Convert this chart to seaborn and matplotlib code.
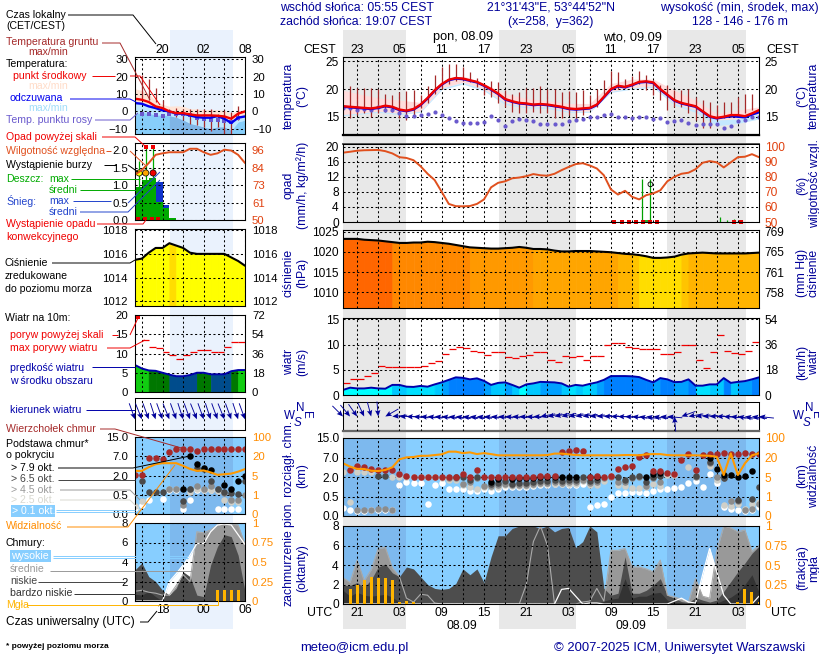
import numpy as np
import matplotlib
matplotlib.use("Agg")
import matplotlib.pyplot as plt
import seaborn as sns

nan = np.nan

# --- main panel, hourly data (UTC hours counted from 08.09 00:00)
hours = list(range(-5, 55))
temp = [16.9,16.8,16.7,16.6,16.5,16.7,17.0,16.8,16.3,16.1,16.4,17.2,18.4,19.8,20.9,21.7,22.0,21.9,21.6,21.3,
        20.7,20.0,19.2,18.2,17.8,17.5,17.4,17.2,17.3,17.2,17.0,16.8,16.5,16.4,16.5,16.6,17.2,18.6,20.0,20.6,
        20.4,20.8,21.3,21.4,21.2,20.0,19.0,18.0,17.5,17.2,16.9,16.0,15.1,14.8,15.0,15.3,15.3,15.1,15.6,16.2]
feels = [16.8,16.7,16.6,16.5,16.4,16.6,16.9,16.7,16.2,16.0,16.3,17.1,18.3,19.7,20.8,21.6,21.9,21.8,21.5,21.2,
         20.6,19.9,19.1,18.1,17.7,17.4,17.3,17.1,17.2,17.1,16.9,16.7,16.4,16.3,16.4,16.5,17.1,18.5,19.9,20.5,
         20.3,20.7,21.2,21.3,21.1,19.9,18.9,17.9,17.4,17.1,16.8,15.9,15.0,14.7,14.9,15.1,15.0,14.9,15.4,15.8]
dew = [16.5,16.5,16.3,16.4,16.3,16.7,16.3,16.2,15.6,15.2,15.2,15.3,15.5,15.9,15.4,14.8,14.3,13.9,13.9,13.9,
       14.1,15.1,14.4,13.4,14.2,14.6,14.4,14.3,13.7,13.7,13.7,13.7,14.3,14.5,14.6,14.9,15.0,15.4,15.5,14.9,
       14.9,14.8,14.9,14.9,14.6,14.7,14.0,14.3,14.5,13.8,13.5,13.6,13.6,13.6,12.9,13.4,14.2,14.4,15.0,15.0]
band_hours = [-5,-3,0,3,6,9,12,15,18,21,24,27,30,33,36,39,42,45,48,51,54]
temp_top = [19.8,19.2,18.4,18,17.6,21.4,22.4,21,19.2,18.3,17.9,17.4,17.4,21,21.8,21.8,19.8,18,15.5,16.2,16.8]
temp_bot = [15.4,15.6,16,15.6,16,20.2,21.2,20,17.5,16.8,16.8,16,16,19.6,20.2,20.6,17.4,16.2,14.4,14.6,15.5]
feels_bot = [15.2,15.4,15.8,15.4,15.8,19.9,20.9,19.7,17.2,16.6,16.5,15.8,15.8,19.4,20,20.3,17.1,15.8,13.4,13.8,14.6]
ground_hours = list(range(-4, 54))
ground_max = [20.5,20.2,20.2,20.2,20.1,19.2,18.9,19.5,19.6,19.9,19.0,20.5,22.6,24.0,24.6,24.5,24,23,22,21,21.5,21.3,19.8,19.2,
              19.5,20.2,20.2,20.5,20.1,20.1,19.5,19.6,19.5,19.8,18.9,20.1,21.7,23.2,23,21.8,22.4,23.3,22.6,21.5,20.8,20.8,
              19.8,19.8,20.1,18.6,18.1,17.7,17.1,17.7,17.7,18.6,19.2,19.2]
ground_min = [14.7,15.3,15.6,15.0,15.6,15.9,15.9,14.7,14.5,15.3,16.5,17.4,19.2,20.1,21,21.5,21.5,21.3,20.4,18.9,18.6,17.4,16.7,15.9,
              15.6,15.6,15.9,15.6,15.6,14.7,14.7,15.3,14.4,15.3,16.5,16.8,18.6,20.1,20.1,20.2,20.4,21,19.8,18.9,18,16.2,
              16.7,16.7,15.6,14.4,12.9,12.9,14.4,14.7,15,15.3,15.6,16.2]
humidity = [96,96.6,97.3,97.6,97.7,97.8,97,95.5,93,92.5,91,87,82,77.8,70,62,60.5,60.4,60.6,62,
            65,73,76,77,79,79.5,80.4,81.8,81,80.7,82,84.4,86.5,88.4,89,87.5,85.5,81,71.6,68.2,
            70.7,66.7,65,67.8,69,71,77,80,82,82.7,85,89.3,90.4,89.6,86.2,89.6,93,93.3,95,93]
rain_hours = [37.4, 38.6, 48.5, 49.5, 50.5]
rain_max = [11.5, 11.5, 1.4, 0.4, 0.9]
conv_hours = [33.5, 34.5, 35.5, 36.5, 37.5, 38.5, 39.5, 50.4, 51.5]
pressure = [1023.2,1023.2,1023.2,1023.0,1022.9,1022.8,1022.6,1022.4,1022.2,1022.2,1022.3,1022.3,1022.5,1022.4,1022.2,1022.0,1021.7,1021.4,1021.1,1021.0,
            1020.9,1020.8,1020.8,1020.9,1021.0,1021.2,1021.0,1020.7,1020.7,1020.6,1020.3,1020.1,1020.1,1020.2,1020.2,1020.2,1020.1,1020.0,1019.9,1019.7,
            1019.5,1019.4,1019.2,1018.9,1018.5,1018.5,1018.6,1018.8,1019.3,1019.6,1019.7,1019.8,1019.7,1019.6,1019.6,1019.6,1019.6,1019.6,1019.7,1019.8]
wind = [1.0,1.45,1.3,1.3,1.45,1.3,1.25,2,2,1.65,1.6,1.8,1.65,2.1,2.5,3,3.5,3.4,3.1,3.3,
        2.8,2,2.4,2.5,2,1.45,2.1,2.3,2.6,2.55,2.5,2.3,1.65,2,1.85,2.2,2.5,3,3.75,3.75,
        3.75,3.7,3.55,3,2.5,3.35,3.1,2.55,2.6,3.1,1.85,1.85,2.1,2.1,3.35,2.4,2.6,2.75,3.1,3.5]
gust_hours = list(range(-5, 54))
gust = [2.3,3.1,3.1,3.75,4.3,5.8,5.6,5.6,5.6,5.6,5.5,5.7,6.25,6.7,8.2,9.2,9.6,9.4,8.8,8.55,
        8.0,8.55,8.55,7.6,7.4,7.75,8.0,8.55,8.55,7.0,6.45,7.75,7.55,7.75,7.0,7.75,7.75,10,10.2,10.2,
        9.5,9.4,9.2,9.2,9.2,8.1,8.1,8.5,10,10,7,5.25,8.5,11.8,8.8,8.3,8.1,8.8,10.4]
wind_dir = [315,320,325,335,345,355,60,85,90,92,95,95,96,96,97,97,98,98,98,97,
            96,96,95,95,94,94,94,92,80,80,78,78,80,80,82,84,86,88,90,92,
            94,96,100,100,98,96,95,175,70,80,84,86,88,90,94,96,100,100,98,96]
cloud_top = [nan,3.8,4.9,4.65,4.05,3.8,3.8,3.8,2.75,2.35,2.1,2.1,2.1,2.1,2.1,2.1,2.1,2.75,2.1,3.8,
             2.1,1.97,1.97,1.97,2.1,2.1,2.1,2.1,2.35,2.35,2.35,9.4,9.65,10.2,9.65,2.1,2.35,2.1,2.35,4.05,
             4.5,4.9,7.1,8.0,3.6,3.6,2.95,2.75,6.25,8.3,3.8,8.0,8.45,8.45,8.7,8.45,8.45,8.7,8.45,8.45]
base_white = [.2,.15,.14,.14,.15,.15,.15,.15,1.38,1.64,1.51,1.51,.3,1.38,1.51,1.05,1.05,1.05,.92,.95,
              1.05,.95,1.05,1.23,1.23,1.23,1.23,1.3,1.36,1.36,1.44,1.44,1.36,1.36,1.44,.24,.27,.31,.5,.74,
              .74,.87,.87,.74,.95,1.05,1.05,1.13,1.25,1.56,1.71,1.25,2.7,1.51,.24,.18,.15,.14,.15,.24]
base_light = [3.3,.37,3.2,3.2,3.2,nan,nan,2.0,2.1,2.0,2.0,2.0,2.0,2.0,1.9,1.8,1.8,1.4,1.25,1.1,
              1.25,1.2,1.25,1.35,1.3,1.3,1.3,1.35,1.45,1.45,1.5,1.5,1.5,1.5,1.7,1.4,1.4,1.7,2.2,1.4,
              1.3,1.15,1.15,1.2,1.5,1.3,2.6,2.6,nan,4.65,2.2,nan,4.9,1.8,.28,.26,.3,.18,.3,.35]
base_gray = [nan,nan,.15,.15,.15,.17,.18,.16,nan,nan,nan,nan,nan,nan,nan,1.9,1.9,1.5,1.6,1.9,
             1.3,1.3,1.35,1.5,1.35,1.4,1.4,1.45,1.55,1.55,1.6,1.55,1.6,1.6,1.8,1.55,1.6,1.9,2.0,1.6,
             1.6,1.9,2.1,1.3,1.9,1.6,nan,nan,nan,nan,2.0,nan,5.5,2.1,1.9,.38,.38,.16,.17,.3]
base_dark = [nan,nan,nan,nan,nan,2.35,2.35,nan,nan,nan,nan,nan,nan,nan,nan,nan,2.1,2.1,1.75,2.05,
             nan,1.45,1.55,1.7,1.5,1.55,1.55,1.6,1.7,1.7,1.75,1.7,1.75,1.75,2.0,1.7,1.75,nan,nan,2.0,
             1.8,2.05,2.3,1.6,2.1,2.3,nan,nan,nan,nan,2.2,nan,5.8,nan,1.95,nan,.4,nan,.44,1.25]
base_black = [nan,nan,nan,nan,nan,nan,nan,nan,nan,nan,nan,nan,nan,nan,nan,nan,nan,nan,nan,nan,
              nan,1.64,1.82,nan,1.82,1.9,1.9,1.9,2,2,2,2,2,2,nan,2,2,nan,nan,nan,
              nan,nan,nan,2.0,2.8,3.1,nan,nan,nan,nan,nan,nan,6.95,3.95,2.5,2.5,2.0,2.25,3.6,nan]
visibility = [15.5,13,11.2,11.2,9.8,9.6,10.4,12.5,18.6,20.6,22,27,27,30,33,44,44,38,41,34,
              38,34,29,29,29,29,29,29,29,30,36,36,33,30,29,29,29,29,29,29,
              30,30,29,33,34,34,30,29,29,29,29,28,27,23,6.5,37,6.5,15.5,29,37]
cloud_low = [1.9,1.9,2.2,1.7,2.5,3.8,4.1,3.2,2.8,3.8,3.6,2.8,2,1.6,1.5,1.6,2.1,3.6,3,3.6,
             2.2,4.85,7,7,7.75,8,8,8,7.75,8,7.4,7.75,7.85,5.8,6.4,8,7.4,1.6,.9,1.1,
             4.85,1.1,1.1,1.4,1.95,2.6,.9,.6,.25,.15,.65,.4,.2,.4,1.3,2.3,3.3,4.2,5.2,5.9]
cloud_vlow = [1.4,.8,1.2,.9,.8,.9,1.0,.7,.2,0,0,0,0,0,0,0,0,0,0,0,
              0,0,0,0,0,0,0,0,0,0,0,0,0,0,0,0,0,.3,.5,.6,
              2.6,.6,.8,.8,1.1,1.2,.4,.2,.1,0,.3,.1,0,.1,.4,.7,1.2,2,3,1.2]
cloud_mid = [2.7,2.2,4.5,2.4,3.5,5.7,5.8,3.7,2.8,.6,.2,1,.9,.1,0,0,0,0,0,0,
             0,0,0,0,0,0,2,6.4,8,6,0,0,0,0,.2,.3,1.6,.3,5.5,5.5,
             5.7,3.8,3.8,3.6,3.3,4.5,.9,.7,.5,.2,2.6,.8,.6,5.4,8,7.8,7.4,7.6,5.4,6]
cloud_high = [0,0,0,0,0,0,0,0,0,0,0,0,0,0,0,0,0,0,0,0,
              0,0,0,0,0,0,0,0,0,0,0,1.5,1.6,.8,0,.1,.1,0,0,0,
              0,0,0,0,0,0,0,.3,.6,.2,.1,3,5.7,3.3,.9,0,0,0,0,.8]
fog = [.19,.19,.25,.31,.34,.33,.33,.31,.03,.04,.02,0,0,0,0,0,0,0,0,0,
       0,0,0,0,0,0,0,0,0,0,0,0,0,0,0,0,0,0,0,0,
       0,0,0,0,0,0,0,0,0,0,0,0,0,0,0,0,.03,.19,.16,.03]

# --- left panel, hourly data
left_hours = list(range(-10, 7))
left_temp = [7.3,6.7,5.4,2.9,1.9,0,-1,-1,-1.7,-2.3,-2.3,-2.3,-2.5,-2.9,-4.2,-1.3,0]
left_feels = [4.8,4.4,2.9,1.9,.6,0,-1.3,-1.3,-2.3,-3.3,-3.6,-3.6,-2.7,-4.2,-6.7,-3.6,-2.9]
left_temp_top = [13,12,10,6.5,4,3,3.2,3,1.5,1.5,1,1,1,.5,-1,.5,.5]
left_feels_bot = [-1.5,-.5,-1,-2,-2,-2.5,-3.5,-5,-7,-8,-9,-10,-9,-9,-11,-6,-5]
left_ground_hours = list(range(-9, 6))
left_ground_max = [20.8,18.8,13.6,6.3,1.5,2.1,1.5,1.5,1.5,1.5,1.5,-1.3,.6,-.4,2.9]
left_ground_min = [6.3,6.3,5.4,1.5,-2.3,-3.3,-5.2,-7.1,-8.1,-9,-11,-9,-12.9,-12.9,-5.2]
left_dew = [-1.3,-1.3,-2.3,-2.7,-1.3,-1.3,-1.7,-2.3,-3.8,-4.2,-4.8,-5.2,-5.6,-6.2,-3.6]
left_humidity = [79.9,83,87.6,93,94,94.7,94.7,94.7,97,97,94.7,93,94,96.4,95.8,93,87.6]
left_rain_hours = [-10,-9,-8,-7,-6,-5]
left_rain = [.96,1.15,1.2,.53,.34,.07]
left_snow = [0,0,0,.57,.09,0]
left_storm_hours = [-9.4,-8.44,-7.37]
left_storm_level = [1.35,1.35,1.35]
left_rain_max = [1.7,2.1,2.1]
left_over_hours = [-8.44,-7.37]
left_over = [2.1,2.1]
left_conv_hours = [-9.6,-8.6,-7.6,-6.6]
left_pressure = [1015.5,1015.6,1016.1,1016.5,1016.5,1016.9,1016.7,1016.5,1016.1,1016,1016,1016,1016,1016,1015.7,1015.4,1015]
left_wind = [7,6.1,5.6,5.5,5,4.5,4.1,4.1,4.4,5,5,4.6,4.6,4.6,5.4,5.7,5.7]
left_gust_hours = list(range(-9, 6))
left_gust = [13.5,11.6,11.3,10.4,9.6,8.7,9.7,10.4,10.8,10.8,10.4,10.4,11.6,12.9,12.9]
left_dir = [340,338,340,342,340,338,340,342,340,338,340,342,340,338,340,342,340]
left_top = [2.15,2.15,6.5,6.5,6.2,8.9,10,10,10,9.2,10,10,10,10,10,10,10]
left_black = [nan,nan,nan,nan,nan,nan,nan,.97,7,4.95,3.9,3.45,nan,1.28,.94,1.58,2]
left_dark = [nan,1.58,.68,.68,.68,nan,nan,.34,.97,4.05,3.7,1.58,.94,.68,.62,.55,1.58]
left_gray = [nan,nan,nan,nan,nan,.95,.97,.24,.95,1.2,.95,1.2,.95,.62,.37,.37,.5]
left_light = [.21,.34,nan,nan,nan,.95,.95,nan,.75,.95,.85,.85,.8,.37,.3,.3,nan]
left_white = [.15,.24,.37,nan,.39,.87,.87,.13,.37,.87,.87,.87,.13,.13,.13,.13,nan]
left_vis = [8.6,8.6,11.5,13.8,14.6,14.6,14.6,12.5,10.1,8.6,8.9,7.4,5.5,6,6.5,8,10]
left_low = [3.2,3.9,2.5,2,1.1,.6,1.3,3,2.5,.6,.45,3.7,5.6,6.8,6.6,4.7,1]
left_vlow = [.7,.6,1,.45,0,0,0,0,0,0,0,0,0,0,0,0,0]
left_mid = [1,1.1,.9,.8,.6,.6,1.6,2.7,2,7.1,7,7.3,7.8,7.9,7.9,7.8,5.8]
left_high = [0,0,0,0,0,2,2.8,3.7,4.7,5.9,5.9,7.1,7.8,7.9,7.8,6.8,5.8]
left_fog_hours = [2,3,4,5]
left_fog = [.14,.14,.14,.14]

# --- axis labels
utc_labels = ["21","03","09","15","21","03","09","15","21","03"]
cest_labels = ["23","05","11","17","23","05","11","17","23","05"]
base_ticks = [0, .5, 2, 7, 15]
vis_ticks = [0, 1, 5, 20, 100]
scale_steps = [0, 1, 2, 3, 4]
hg_labels = ["758","761","765","769"]

# --- colour classes
press_limits = [1016.8,1019.25,1019.45,1019.9,1020.8,1021.4,1022.6]
press_colors = ["#FFFF00","#FFDD00","#FFC400","#FFB400","#FFA500","#FF9900","#FF8800","#FF6600"]
wind_limits = [1.5,2.0,2.5,3.0,4.0,4.8,5.7]
wind_colors = ["#00FFFF","#00E0FF","#00C8FF","#00A0FF","#0080FF","#004C8C","#007700","#11CC11"]

W, H = 820, 660
LX0, LX1 = 135, 245
MX0, MX1 = 343, 759
NAVY = "#000099"
ORANGE = "#FF8C00"
SKY = "#87CEFF"
SKY_NIGHT = "#7DB9EE"

sns.set_theme(style="white", rc={"axes.linewidth": 0.75, "axes.edgecolor": "black"})
plt.rcParams["font.family"] = ["Liberation Sans", "DejaVu Sans"]
plt.rcParams["font.size"] = 8.8

fig = plt.figure(figsize=(W / 100, H / 100), dpi=100, facecolor="white")


def make_panel(x0, x1, y0, y1):
    return fig.add_axes([x0 / W, 1 - y1 / H, (x1 - x0) / W, (y1 - y0) / H], facecolor="none")


def finish_panel(ax, xlim, grid_x, ylim, yticks, ylabels=None, pad=3, size=8.6):
    ax.set_xlim(*xlim)
    ax.set_ylim(*ylim)
    ax.set_xticks(grid_x)
    ax.set_xticklabels([])
    ax.set_yticks(yticks)
    if ylabels is not None:
        ax.set_yticklabels(ylabels)
    ax.set(xlabel="", ylabel="")
    ax.tick_params(length=0, labelsize=size, pad=pad, colors="black")
    ax.set_axisbelow(False)
    ax.grid(True, color="black", linewidth=0.75, linestyle=(0, (2, 2.4)))


def finish_twin(ax, ylim, yticks, ylabels=None, color="black", pad=4, size=8.6):
    ax.set_facecolor("none")
    ax.set_ylim(*ylim)
    ax.set_yticks(yticks)
    if ylabels is not None:
        ax.set_yticklabels(ylabels)
    ax.set(xlabel="", ylabel="")
    ax.tick_params(length=0, labelsize=size, pad=pad, labelcolor=color)
    ax.grid(False)


def paint_under(ax, x, y, bottom, limits, colors):
    idx = np.digitize(y, limits)
    for i in range(len(x) - 1):
        ax.fill_between(x[i:i + 2], bottom, y[i:i + 2], color=colors[idx[i]], linewidth=0.6, zorder=1)


def set_function_scale(ax, ticks):
    ax.set_yscale("function", functions=(lambda v: np.interp(v, ticks, scale_steps),
                                         lambda p: np.interp(p, scale_steps, ticks)))


def draw_base_dots(ax, x, white, light, gray, dark, black, top):
    for vals, col in [(white, "white"), (light, "#CFCFC8"), (gray, "#8C8C8C"),
                      (dark, "#4A4A4A"), (black, "black"), (top, "#A52A2A")]:
        sns.scatterplot(x=x, y=vals, ax=ax, color=col, s=22, linewidth=0, zorder=3, legend=False)


def draw_cover(ax, x, high, mid, low, vlow):
    ax.fill_between(x, 0, high, color="white", linewidth=0, zorder=1)
    ax.fill_between(x, 0, mid, color="#999999", linewidth=0, zorder=1.1)
    ax.fill_between(x, 0, low, color="#4D4D4D", linewidth=0, zorder=1.2)
    ax.fill_between(x, 0, vlow, color="#333333", linewidth=0, zorder=1.3)
    sns.lineplot(x=x, y=mid, ax=ax, color="#AAAAAA", linewidth=0.8, zorder=2, errorbar=None)
    sns.lineplot(x=x, y=high, ax=ax, color="white", linewidth=0.9, zorder=2, errorbar=None)


# background layer: night bands, in pixel coordinates of the whole figure
bg = fig.add_axes([0, 0, 1, 1], zorder=-1)
bg.set_xlim(0, W)
bg.set_ylim(H, 0)
bg.axis("off")
main_px = lambda t: MX0 + (t + 5) * (MX1 - MX0) / 59
left_px = lambda t: LX0 + (t + 10) * (LX1 - LX0) / 16
for a, b in [(-5, 3.9), (17.1, 28.05), (41, 52.1)]:
    bg.fill_between([main_px(a), main_px(b)], 30, 629, color="#E8E8E8", linewidth=0)
bg.fill_between([left_px(-4.9), left_px(4.2)], 30, 629, color="#EAF2FD", linewidth=0)

main_x = (-5, 54)
left_x = (-10, 6)
main_grid = list(range(-3, 54, 3))
left_grid = list(range(-9, 7, 3))

# --- temperature
ax = make_panel(MX0, MX1, 57, 135)
ax.fill_between(band_hours, temp_bot, temp_top, color="#FFDCDC", linewidth=0, zorder=1)
ax.fill_between(band_hours, feels_bot, temp_bot, color="#C4E8FF", linewidth=0, zorder=1)
ax.vlines(ground_hours, ground_min, ground_max, color="#A52A2A", linewidth=0.9, zorder=3)
sns.scatterplot(x=hours, y=dew, ax=ax, color="#6A5ACD", s=9, linewidth=0, zorder=3, legend=False)
sns.lineplot(x=hours, y=feels, ax=ax, color="#0000EE", linewidth=1.7, zorder=3.1, errorbar=None)
sns.lineplot(x=hours, y=temp, ax=ax, color="#F00000", linewidth=1.7, zorder=3.2, errorbar=None)
finish_panel(ax, main_x, main_grid, (11.7, 25.8), [15, 20, 25])
ax.spines["bottom"].set_linewidth(1.6)
ax.xaxis.tick_top()
ax.set_xticklabels([cest_labels[i // 2] if i % 2 == 0 else "" for i in range(len(main_grid))])
ax.tick_params(axis="x", length=0, labelsize=8.8, pad=1)
tw = ax.twinx()
finish_twin(tw, (11.7, 25.8), [15, 20, 25])

ax = make_panel(LX0, LX1, 57, 134)
lh = np.array(left_hours)
night = (lh >= -5) & (lh <= 4)
ax.fill_between(left_hours, left_feels, left_temp_top, color="#FFE4D6", linewidth=0, zorder=1)
ax.fill_between(left_hours, left_feels_bot, left_feels, color="#BFE8FF", linewidth=0, zorder=1.1)
ax.fill_between(left_hours, -13, left_feels_bot, color="#87CEFA", linewidth=0, zorder=1.2)
ax.fill_between(left_hours, -13, left_feels_bot, where=night, color="#7FB5E6", linewidth=0, zorder=1.3)
ax.vlines(left_ground_hours, left_ground_min, left_ground_max, color="#A52A2A", linewidth=0.9, zorder=3)
sns.scatterplot(x=left_ground_hours, y=left_dew, ax=ax, color="#6A5ACD", s=9, marker="s", linewidth=0, zorder=3, legend=False)
sns.lineplot(x=left_hours, y=left_feels, ax=ax, color="#0000EE", linewidth=1.7, zorder=3.1, errorbar=None)
sns.lineplot(x=left_hours, y=left_temp, ax=ax, color="#F00000", linewidth=1.7, zorder=3.2, errorbar=None)
finish_panel(ax, left_x, left_grid, (-13, 31.3), [-10, 0, 10, 20, 30], pad=5, size=8.2)
ax.xaxis.tick_top()
ax.set_xticklabels(["", "20", "", "02", "", "08"])
ax.tick_params(axis="x", length=0, labelsize=8.8, pad=1)
tw = ax.twinx()
finish_twin(tw, (-13, 31.3), [-10, 0, 10, 20, 30], pad=5, size=8.2)

# --- precipitation and humidity
ax = make_panel(MX0, MX1, 144, 222)
ax.vlines(rain_hours, 0, rain_max, color="#00A000", linewidth=0.9, zorder=3)
ax.hlines([0.25], [37.4], [38.6], color="#00A000", linewidth=1.2, zorder=3)
sns.scatterplot(x=conv_hours, y=[0.05] * len(conv_hours), ax=ax, color="#E00000", marker="s", s=6,
                linewidth=0, zorder=4, legend=False, clip_on=False)
sns.scatterplot(x=[38.6], y=[10], ax=ax, facecolor="none", edgecolor="black", s=12, linewidth=0.6, zorder=4, legend=False)
finish_panel(ax, main_x, main_grid, (0, 20.7), [0, 4, 8, 12, 16, 20])
ax.spines["top"].set_linewidth(1.4)
ax.spines["top"].set_color("#555555")
tw = ax.twinx()
sns.lineplot(x=hours, y=humidity, ax=tw, color="#E0501E", linewidth=1.4, errorbar=None)
finish_twin(tw, (50, 101.75), [50, 60, 70, 80, 90, 100], color="#E0400E")

ax = make_panel(LX0, LX1, 143, 220)
ax.bar(left_rain_hours, left_rain, width=1, align="edge", color="#00AA00", linewidth=0, zorder=1)
ax.bar(left_rain_hours, left_snow, width=1, align="edge", bottom=left_rain, color="#1133CC", linewidth=0, zorder=1)
ax.vlines(left_storm_hours, 0, left_rain_max, color="#00AA00", linewidth=0.9, zorder=2)
sns.scatterplot(x=left_storm_hours, y=left_storm_level, ax=ax, hue=left_storm_hours,
                palette=["#FFFF00", "#FFA500", "#F00000"], edgecolor="black", s=20, linewidth=0.5, zorder=4, legend=False)
sns.scatterplot(x=left_over_hours, y=left_over, ax=ax, color="#F00000", marker="s", s=9, linewidth=0, zorder=4, legend=False)
sns.scatterplot(x=left_conv_hours, y=[0.02] * 4, ax=ax, color="#E00000", marker="s", s=5, linewidth=0, zorder=4, legend=False, clip_on=False)
finish_panel(ax, left_x, left_grid, (0, 2.21), [0, .5, 1, 1.5, 2], ["0.0", "0.5", "1.0", "1.5", "2.0"], pad=5, size=8.2)
tw = ax.twinx()
sns.lineplot(x=left_hours, y=left_humidity, ax=tw, color="#E0501E", linewidth=1.4, errorbar=None)
finish_twin(tw, (50, 100.8), [50, 61, 73, 84, 96], color="#E0400E", pad=5, size=8.2)

# --- pressure
ax = make_panel(MX0, MX1, 230, 308)
paint_under(ax, hours, np.array(pressure), 1000, press_limits, press_colors)
sns.lineplot(x=hours, y=pressure, ax=ax, color="black", linewidth=1.5, zorder=3, errorbar=None)
finish_panel(ax, main_x, main_grid, (1006.1, 1025.4), [1010, 1015, 1020, 1025])
tw = ax.twinx()
finish_twin(tw, (1006.1, 1025.4), [1010, 1015, 1020, 1025], hg_labels)

ax = make_panel(LX0, LX1, 229, 306)
paint_under(ax, left_hours, np.array(left_pressure), 1000, press_limits, press_colors)
sns.lineplot(x=left_hours, y=left_pressure, ax=ax, color="black", linewidth=1.5, zorder=3, errorbar=None)
finish_panel(ax, left_x, left_grid, (1011.6, 1018.1), [1012, 1014, 1016, 1018], pad=5, size=8.2)
tw = ax.twinx()
finish_twin(tw, (1011.6, 1018.1), [1012, 1014, 1016, 1018], pad=5, size=8.2)

# --- wind
ax = make_panel(MX0, MX1, 318, 395)
paint_under(ax, hours, np.array(wind), 0, wind_limits, wind_colors)
ax.hlines(gust, gust_hours, np.array(gust_hours) + 1, color="#F00000", linewidth=0.9, zorder=3)
sns.lineplot(x=hours, y=wind, ax=ax, color="#0000AA", linewidth=1.4, zorder=3, errorbar=None)
finish_panel(ax, main_x, main_grid, (0, 15.25), [0, 5, 10, 15])
tw = ax.twinx()
finish_twin(tw, (0, 54.9), [0, 18, 36, 54])

ax = make_panel(LX0, LX1, 315, 392)
paint_under(ax, left_hours, np.array(left_wind), 0, wind_limits, wind_colors)
ax.hlines(left_gust, left_gust_hours, np.array(left_gust_hours) + 1, color="#F00000", linewidth=0.9, zorder=3)
sns.scatterplot(x=[-9.5], y=[19.5], ax=ax, color="#F00000", marker="s", s=9, linewidth=0, zorder=4, legend=False)
sns.lineplot(x=left_hours, y=left_wind, ax=ax, color="#0000AA", linewidth=1.4, zorder=3, errorbar=None)
finish_panel(ax, left_x, left_grid, (0, 20), [0, 5, 10, 15, 20], pad=5, size=8.2)
tw = ax.twinx()
finish_twin(tw, (0, 72), [0, 18, 36, 54, 72], pad=5, size=8.2)

# --- wind direction
def draw_arrows(ax, x, dirs, length, tip):
    rad = np.radians(dirs)
    ax.quiver(x, [tip] * len(x), -length * np.sin(rad), -length * np.cos(rad), pivot="tip", angles="uv",
              scale_units="dots", scale=1, units="dots", width=0.9, headwidth=6, headlength=7,
              headaxislength=6, color="#000099", zorder=3, clip_on=False)


ax = make_panel(MX0, MX1, 402, 431)
draw_arrows(ax, hours, wind_dir, 15, 0)
finish_panel(ax, main_x, main_grid, (-1, 1), [])
ax.spines["bottom"].set_linewidth(1.6)
ax.spines["bottom"].set_color("#666666")

ax = make_panel(LX0, LX1, 398, 430)
draw_arrows(ax, left_hours, left_dir, 17, -0.33)
finish_panel(ax, left_x, left_grid, (-1, 1), [])

# --- cloud base and visibility
ax = make_panel(MX0, MX1, 438, 516)
ax.set_facecolor(SKY)
set_function_scale(ax, base_ticks)
for a, b in [(-5, 3.9), (17.1, 28.05), (41, 52.1)]:
    ax.axvspan(a, b, color=SKY_NIGHT, linewidth=0, zorder=0.5)
draw_base_dots(ax, hours, base_white, base_light, base_gray, base_dark, base_black, cloud_top)
finish_panel(ax, main_x, main_grid, (0, 15.3), base_ticks, ["0.0", "0.5", "2.0", "7.0", "15.0"])
ax.yaxis.set_minor_locator(plt.NullLocator())
tw = ax.twinx()
set_function_scale(tw, vis_ticks)
sns.lineplot(x=hours, y=visibility, ax=tw, color="#FF9900", linewidth=1.5, errorbar=None)
finish_twin(tw, (0, 104), vis_ticks, color=ORANGE)
tw.yaxis.set_minor_locator(plt.NullLocator())

ax = make_panel(LX0, LX1, 437, 514)
ax.set_facecolor(SKY)
set_function_scale(ax, base_ticks)
ax.axvspan(-4.9, 4.2, color=SKY_NIGHT, linewidth=0, zorder=0.5)
draw_base_dots(ax, left_hours, left_white, left_light, left_gray, left_dark, left_black, left_top)
finish_panel(ax, left_x, left_grid, (0, 15), base_ticks, ["0.0", "0.5", "2.0", "7.0", "15.0"], pad=5, size=8.2)
ax.yaxis.set_minor_locator(plt.NullLocator())
tw = ax.twinx()
set_function_scale(tw, vis_ticks)
sns.lineplot(x=left_hours, y=left_vis, ax=tw, color="#FF9900", linewidth=1.5, errorbar=None)
finish_twin(tw, (0, 100), vis_ticks, color=ORANGE, pad=5, size=8.2)
tw.yaxis.set_minor_locator(plt.NullLocator())

# --- cloud cover and fog
ax = make_panel(MX0, MX1, 526, 604)
ax.set_facecolor(SKY)
for a, b in [(-5, 3.9), (17.1, 28.05), (41, 52.1)]:
    ax.axvspan(a, b, color=SKY_NIGHT, linewidth=0, zorder=0.5)
draw_cover(ax, hours, cloud_high, cloud_mid, cloud_low, cloud_vlow)
finish_panel(ax, main_x, main_grid, (0, 8), [0, 2, 4, 6, 8])
ax.set_xticklabels([utc_labels[i // 2] if i % 2 == 0 else "" for i in range(len(main_grid))])
ax.tick_params(axis="x", length=0, labelsize=8.8, pad=2)
tw = ax.twinx()
tw.bar(hours, fog, width=0.42, color="#FFB400", linewidth=0)
finish_twin(tw, (0, 1), [0, .25, .5, .75, 1], ["0", "0.25", "0.5", "0.75", "1"], color=ORANGE)

ax = make_panel(LX0, LX1, 523, 601)
ax.set_facecolor(SKY)
ax.axvspan(-4.9, 4.2, color=SKY_NIGHT, linewidth=0, zorder=0.5)
draw_cover(ax, left_hours, left_high, left_mid, left_low, left_vlow)
finish_panel(ax, left_x, left_grid, (0, 8), [0, 2, 4, 6, 8], pad=5, size=8.2)
ax.set_xticklabels(["", "18", "", "00", "", "06"])
ax.tick_params(axis="x", length=0, labelsize=8.8, pad=2)
tw = ax.twinx()
tw.bar(left_fog_hours, left_fog, width=0.42, color="#FFB400", linewidth=0)
finish_twin(tw, (0, 1), [0, .25, .5, .75, 1], ["0", "0.25", "0.5", "0.75", "1"], color=ORANGE, pad=5, size=8.2)

# --- foreground layer: every caption and leader line
fg = fig.add_axes([0, 0, 1, 1], zorder=10, facecolor="none")
fg.set_xlim(0, W)
fg.set_ylim(H, 0)
fg.axis("off")


def txt(x, y, s, color="black", ha="left", size=8.8, **kw):
    fg.text(x, y, s, color=color, ha=ha, va="center", fontsize=size, **kw)


def ltxt(x, y, s, color="black", size=7.6):
    txt(x, y, s, color, size=size)


def vtxt(x, y, s):
    fg.text(x, y, s, color=NAVY, ha="center", va="center", rotation=90, fontsize=8.8)


def leader(xs, ys, color):
    fg.plot(xs, ys, color=color, linewidth=0.7, zorder=1, solid_capstyle="butt")


# header
txt(280, 8, "wschód słońca: 05:55 CEST", NAVY)
txt(280, 22, "zachód słońca: 19:07 CEST", NAVY)
txt(551, 8, "21°31'43\"E, 53°44'52\"N", NAVY, ha="center")
txt(551, 22, "(x=258,  y=362)", NAVY, ha="center")
txt(819, 8, "wysokość (min, środek, max)", NAVY, ha="right")
txt(740, 22, "128 - 146 - 176 m", NAVY, ha="center")
txt(463, 37, "pon, 08.09", ha="center", size=9.2)
txt(632, 37, "wto, 09.09", ha="center", size=9.2)
txt(303, 50, "CEST")
txt(766, 50, "CEST")
txt(307, 613, "UTC")
txt(771, 613, "UTC")
txt(462, 626, "08.09", ha="center")
txt(631, 626, "09.09", ha="center")
txt(300, 648, "meteo@icm.edu.pl", NAVY, size=9.4)
txt(554, 648, "© 2007-2025 ICM, Uniwersytet Warszawski", NAVY, size=9.4)

# rotated axis titles
for x, y, s in [(289, 96, "temperatura"), (302, 96, "(°C)"), (802, 96, "(°C)"), (814, 96, "temperatura"),
                (289, 185, "opad"), (303, 185, "(mm/h, kg/m²/h)"), (802, 185, "(%)"), (815, 183, "wilgotność wzgl."),
                (289, 273, "ciśnienie"), (302, 273, "(hPa)"), (802, 273, "(mm Hg)"), (814, 273, "ciśnienie"),
                (289, 362, "wiatr"), (302, 362, "(m/s)"), (802, 362, "(km/h)"), (814, 362, "wiatr"),
                (289, 474, "pion. rozciągł. chm."), (302, 476, "(km)"), (802, 476, "(km)"), (814, 476, "widzialność"),
                (289, 568, "zachmurzenie"), (302, 568, "(oktanty)"), (802, 568, "(frakcja)"), (814, 568, "mgła")]:
    vtxt(x, y, s)

# compass letters
for x0 in [0, 509]:
    fg.text(289 + x0, 416, "W", color=NAVY, ha="center", va="center", fontsize=8.4)
    fg.text(300 + x0, 408, "N", color=NAVY, ha="center", va="center", fontsize=8.4)
    fg.text(306 + x0, 415, "E", color=NAVY, ha="center", va="center", fontsize=8.4, rotation=-90)
    fg.text(298 + x0, 423, "S", color=NAVY, ha="center", va="center", fontsize=8.4, style="italic")

# left legend
BROWN = "#A52A2A"
RED = "#F00000"
ltxt(6, 15, "Czas lokalny")
ltxt(6, 26, "(CET/CEST)")
leader([68, 133, 156], [15, 15, 44], "black")
ltxt(6, 42, "Temperatura gruntu", BROWN)
ltxt(28, 52, "max/min", BROWN)
leader([102, 120, 150], [43, 43, 100], BROWN)
ltxt(6, 64, "Temperatura:")
ltxt(13, 76, "punkt środkowy", RED)
leader([92, 115], [76, 76], RED)
leader([130, 140, 160], [76, 76, 105], RED)
ltxt(28, 86, "max/min", "#FFDCC8")
ltxt(10, 98, "odczuwana", "#0000EE")
leader([70, 130, 136], [99, 99, 102], "#0000EE")
ltxt(28, 108, "max/min", "#A0DDFA")
ltxt(6, 120, "Temp. punktu rosy", "#6A5ACD")
leader([95, 130, 138], [120, 120, 113], "#6A5ACD")
ltxt(6, 137, "Opad powyżej skali", RED)
leader([102, 135, 146], [137, 137, 147], RED)
ltxt(6, 151, "Wilgotność względna", "#E0501E")
leader([106, 111], [151, 151], "#E0501E")
leader([130, 145], [151, 165], "#E0501E")
ltxt(6, 165, "Wystąpienie burzy")
leader([104, 116], [165, 165], "black")
leader([128, 138], [165, 172], "black")
ltxt(6, 179, "Deszcz:", "#00AA00")
ltxt(49, 179, "max", "#00AA00")
leader([71, 140], [179, 179], "#00AA00")
ltxt(49, 190, "średni", "#00AA00")
leader([80, 145], [190, 190], "#00AA00")
ltxt(6, 201, "Śnieg:", "#2244CC")
ltxt(49, 201, "max", "#2244CC")
leader([73, 111], [201, 201], "#2244CC")
leader([128, 160], [203, 172], "#2244CC")
ltxt(49, 212, "średni", "#2244CC")
leader([80, 128, 160], [212, 212, 180], "#2244CC")
ltxt(6, 224, "Wystąpienie opadu", RED)
leader([97, 143, 146], [224, 224, 220], RED)
ltxt(6, 237, "konwekcyjnego", RED)
ltxt(5, 263, "Ciśnienie")
leader([52, 130, 135], [263, 263, 260], "black")
ltxt(5, 276, "zredukowane")
ltxt(5, 289, "do poziomu morza")
ltxt(5, 318, "Wiatr na 10m:")
ltxt(10, 335, "poryw powyżej skali", RED)
leader([112, 118], [335, 335], RED)
leader([130, 138], [335, 318], RED)
ltxt(10, 348, "max porywy wiatru", RED)
leader([107, 130, 145], [348, 348, 340], RED)
ltxt(10, 368, "prędkość wiatru", "#0000AA")
leader([92, 135], [367, 367], "#0000AA")
ltxt(10, 381, "w środku obszaru", "#0000AA")
ltxt(10, 410, "kierunek wiatru", "#0000AA")
leader([86, 135], [410, 410], "#0000AA")
ltxt(6, 429, "Wierzchołek chmur", BROWN)
leader([100, 115, 185], [429, 429, 449], BROWN)
ltxt(6, 444, "Podstawa chmur*")
ltxt(6, 455, "o pokryciu")
ltxt(11, 468, "> 7.9 okt.")
leader([58, 133, 190], [468, 468, 456], "black")
ltxt(11, 479, "> 6.5 okt.", "#444444")
leader([58, 135], [480, 480], "#444444")
ltxt(11, 490, "> 4.5 okt.", "#999999")
leader([60, 130, 140], [490, 490, 500], "#999999")
ltxt(11, 500, "> 2.5 okt.", "#D8D8D0")
leader([60, 130, 140], [500, 500, 510], "#D8D8D0")
fg.fill_between([11, 55], 505, 517, color=SKY, linewidth=0)
ltxt(12, 511, "> 0.1 okt.", "white")
leader([56, 135], [510, 510], SKY)
leader([56, 135], [512, 512], SKY)
ltxt(6, 526, "Widzialność", ORANGE)
leader([67, 128, 175], [527, 527, 465], ORANGE)
ltxt(6, 543, "Chmury:")
fg.fill_between([10, 51], 550, 562, color=SKY, linewidth=0)
ltxt(11, 556, "wysokie", "white")
leader([53, 188], [556, 556], SKY)
leader([53, 188], [558, 558], SKY)
ltxt(10, 569, "średnie", "#999999")
leader([50, 192], [571, 571], "#999999")
ltxt(10, 581, "niskie", "#444444")
leader([38, 125], [582, 582], "#444444")
ltxt(10, 593, "bardzo niskie", "#333333")
leader([74, 135], [594, 594], "#333333")
ltxt(6, 605, "Mgła", "#FFB400")
leader([27, 218, 218], [605, 605, 600], "#FFB400")
txt(6, 622, "Czas uniwersalny (UTC)", size=8.6)
leader([140, 148, 157], [622, 622, 611], "black")
txt(6, 647, "* powyżej poziomu morza", size=6, weight="bold")

fig.savefig("out.png", dpi=100)
